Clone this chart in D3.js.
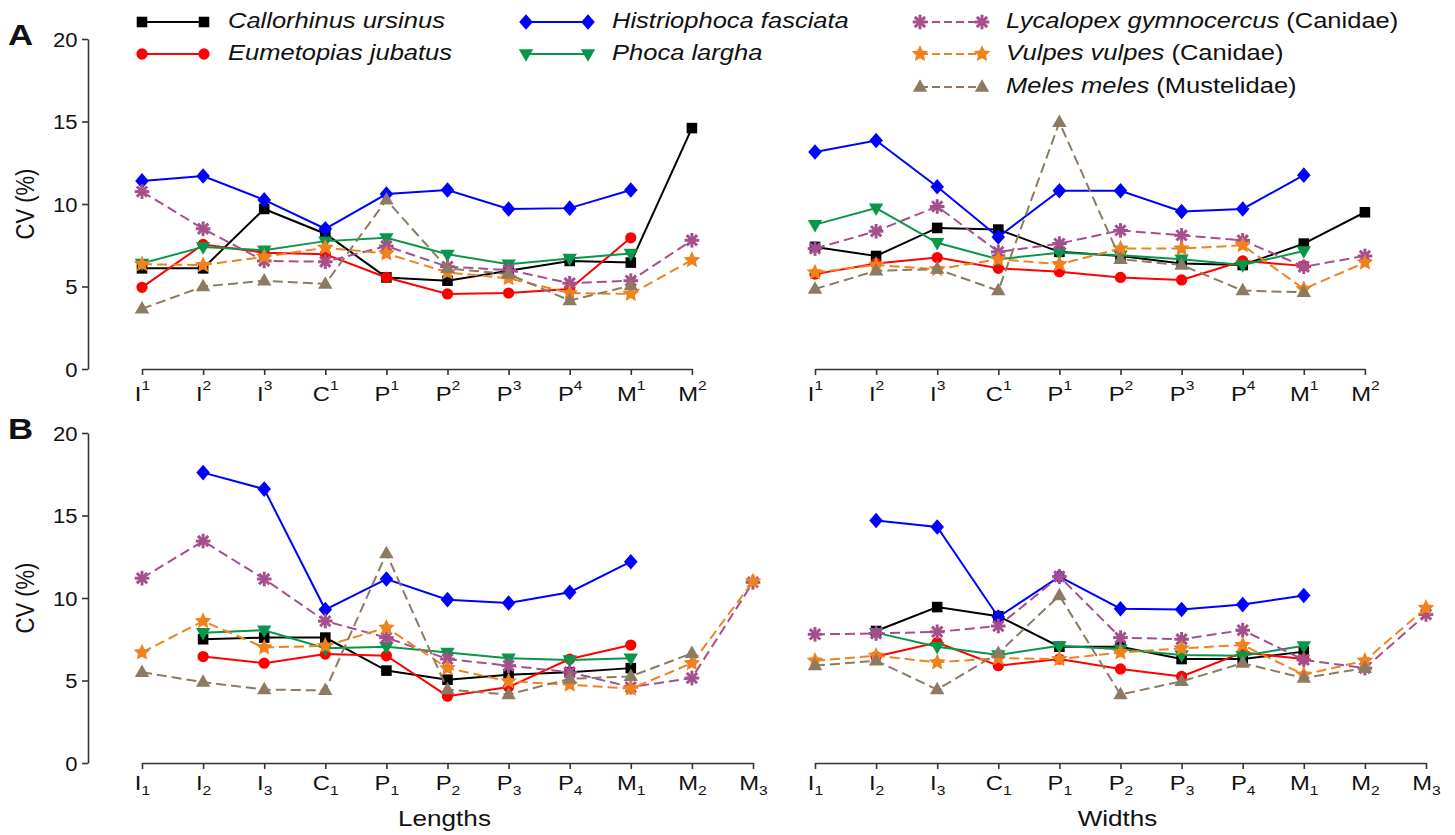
<!DOCTYPE html>
<html lang="en">
  <head>
    <meta charset="UTF-8" />
    <title>CV of tooth dimensions</title>
    <script src="https://d3js.org/d3.v7.min.js"></script>
    <style>
      body { margin: 0; background: #fff; }
      text { font-family: "Liberation Sans", Arial, sans-serif; fill: #111; }
      .axis path, .axis line { stroke: #333; stroke-width: 1.6; }
    </style>
  </head>
  <body>
    <svg id="chart" width="1455" height="835"></svg>

    <script>
      // categories (tooth positions)
      const upperTeeth = ["I1", "I2", "I3", "C1", "P1", "P2", "P3", "P4", "M1", "M2"];
      const lowerTeeth = ["I1", "I2", "I3", "C1", "P1", "P2", "P3", "P4", "M1", "M2", "M3"];
      const yTicks = [0, 5, 10, 15, 20];

      const species = [
        "Callorhinus ursinus",
        "Eumetopias jubatus",
        "Histriophoca fasciata",
        "Phoca largha",
        "Lycalopex gymnocercus",
        "Vulpes vulpes",
        "Meles meles",
      ];
      const families = ["", "", "", "", "Canidae", "Canidae", "Mustelidae"];

      // CV (%) per species, rows in the order of `species`
      const upperLengths = [
        [6.1, 6.1, 9.7, 8.2, 5.55, 5.35, 5.95, 6.55, 6.45, 14.6],
        [4.95, 7.55, 7.05, 6.95, 5.55, 4.55, 4.6, 4.85, 7.95, null],
        [11.4, 11.7, 10.25, 8.5, 10.6, 10.85, 9.7, 9.75, 10.85, null],
        [6.4, 7.4, 7.2, 7.75, 7.95, 6.95, 6.35, 6.7, 7.0, null],
        [10.75, 8.5, 6.55, 6.5, 7.45, 6.2, 6.0, 5.2, 5.35, 7.8],
        [6.35, 6.3, 6.8, 7.35, 7.0, 5.85, 5.5, 4.6, 4.55, 6.6],
        [3.65, 5.0, 5.35, 5.15, 10.25, 6.1, 5.75, 4.15, 5.05, null],
      ];
      const upperWidths = [
        [7.4, 6.85, 8.55, 8.45, 7.1, 6.85, 6.4, 6.3, 7.6, 9.5],
        [5.75, 6.4, 6.75, 6.1, 5.9, 5.55, 5.4, 6.55, 6.25, null],
        [13.15, 13.85, 11.05, 8.0, 10.8, 10.8, 9.55, 9.7, 11.75, null],
        [8.75, 9.75, 7.65, 6.65, 7.05, 6.9, 6.65, 6.3, 7.15, null],
        [7.3, 8.35, 9.85, 7.1, 7.6, 8.4, 8.1, 7.8, 6.2, 6.85],
        [5.85, 6.3, 6.05, 6.65, 6.35, 7.3, 7.3, 7.5, 4.85, 6.45],
        [4.85, 5.95, 6.05, 4.75, 14.95, 6.65, 6.3, 4.75, 4.65, null],
      ];
      const lowerLengths = [
        [null, 7.5, 7.6, 7.6, 5.6, 5.05, 5.35, 5.5, 5.75, null, null],
        [null, 6.45, 6.05, 6.6, 6.5, 4.05, 4.6, 6.3, 7.15, null, null],
        [null, 17.6, 16.6, 9.3, 11.15, 9.9, 9.7, 10.35, 12.2, null, null],
        [null, 7.9, 8.05, 6.95, 7.05, 6.7, 6.35, 6.25, 6.35, null, null],
        [11.2, 13.45, 11.15, 8.6, 7.6, 6.3, 5.9, 5.5, 4.6, 5.15, 10.95],
        [6.7, 8.6, 7.0, 7.1, 8.2, 5.75, 4.95, 4.75, 4.5, 6.05, 11.0],
        [5.5, 4.9, 4.45, 4.4, 12.7, 4.45, 4.15, 5.1, 5.25, 6.65, null],
      ];
      const lowerWidths = [
        [null, 8.0, 9.45, 8.9, 7.05, 7.05, 6.3, 6.3, 6.75, null, null],
        [null, 6.45, 7.3, 5.9, 6.3, 5.7, 5.25, 6.7, 6.3, null, null],
        [null, 14.7, 14.3, 8.85, 11.3, 9.35, 9.3, 9.6, 10.15, null, null],
        [null, 7.9, 7.05, 6.55, 7.1, 6.9, 6.55, 6.5, 7.1, null, null],
        [7.8, 7.85, 7.95, 8.3, 11.3, 7.6, 7.5, 8.05, 6.25, 5.75, 9.0],
        [6.2, 6.5, 6.1, 6.35, 6.3, 6.7, 6.95, 7.15, 5.35, 6.2, 9.4],
        [5.9, 6.2, 4.45, 6.65, 10.15, 4.15, 4.95, 6.05, 5.15, 5.75, null],
      ];

      // styles per species
      const colors = ["#000000", "#ff0000", "#0000ff", "#08974a", "#a54f8d", "#f0821e", "#8c7b62"];
      const dashed = [false, false, false, false, true, true, true];
      const shapes = ["square", "circle", "diamond", "triDown", "asterisk", "star", "triUp"];

      const svg = d3.select("#chart");
      const sx = 1.16; // the original figure's text is a bit wide

      // fat five-point star
      function starPath(R, r) {
        const pts = d3.range(10).map((k) => {
          const a = (k * Math.PI) / 5 - Math.PI / 2;
          const rad = k % 2 ? r : R;
          return [rad * Math.cos(a), rad * Math.sin(a)];
        });
        return "M" + pts.map((p) => p.join(",")).join("L") + "Z";
      }

      const symbolPath = {
        square: d3.symbol(d3.symbolSquare, 112)(),
        circle: d3.symbol(d3.symbolCircle, 100)(),
        diamond: "M0,-7.8L6.8,0L0,7.8L-6.8,0Z",
        triUp: "M0,-7.8L7.2,4.7L-7.2,4.7Z",
        triDown: "M0,7.8L7.2,-4.7L-7.2,-4.7Z",
        star: starPath(8.8, 4.2),
      };

      function drawMarker(g, shape, color, x, y) {
        if (shape === "asterisk") {
          const r = 7.3;
          const a = g.append("g").attr("transform", `translate(${x},${y})`);
          [0, 45, 90, 135].forEach((deg) => {
            const t = (deg * Math.PI) / 180;
            a.append("line")
              .attr("x1", -r * Math.cos(t)).attr("y1", -r * Math.sin(t))
              .attr("x2", r * Math.cos(t)).attr("y2", r * Math.sin(t))
              .attr("stroke", color).attr("stroke-width", 3);
          });
        } else {
          g.append("path")
            .attr("d", symbolPath[shape])
            .attr("transform", `translate(${x},${y})`)
            .attr("fill", color);
        }
      }

      const panels = [
        { data: upperLengths, cats: upperTeeth, x0: 142, top: 39, bottom: 369, sup: true, yAxis: true, letter: "A" },
        { data: upperWidths, cats: upperTeeth, x0: 815, top: 39, bottom: 369, sup: true, yAxis: false },
        { data: lowerLengths, cats: lowerTeeth, x0: 142, top: 433, bottom: 763, sup: false, yAxis: true, letter: "B", title: "Lengths" },
        { data: lowerWidths, cats: lowerTeeth, x0: 815, top: 433, bottom: 763, sup: false, yAxis: false, title: "Widths" },
      ];
      const step = 61.1;

      panels.forEach((p) => {
        const x = d3.scalePoint()
          .domain(p.cats)
          .range([p.x0, p.x0 + step * (p.cats.length - 1)]);
        const y = d3.scaleLinear().domain([0, 20]).range([p.bottom, p.top]);

        // x axis
        const xa = svg.append("g")
          .attr("class", "axis")
          .attr("transform", `translate(0,${p.bottom})`)
          .call(d3.axisBottom(x).tickSize(6).tickSizeOuter(0));
        xa.selectAll(".tick text").remove();
        xa.selectAll(".tick").each(function (d) {
          const t = d3.select(this).append("text")
            .attr("transform", `translate(0,${p.sup ? 31.5 : 27}) scale(${sx},1)`)
            .attr("text-anchor", "middle")
            .attr("fill", "#111")
            .style("font-size", "20.5px")
            .style("font-family", '"Liberation Sans", Arial, sans-serif');
          t.append("tspan").text(d[0]);
          t.append("tspan")
            .attr("dy", p.sup ? -10.5 : 4.5)
            .style("font-size", "13.5px")
            .text(d.slice(1));
        });

        // y axis
        if (p.yAxis) {
          const ya = svg.append("g")
            .attr("class", "axis")
            .attr("transform", "translate(88,0)")
            .call(d3.axisLeft(y).tickValues(yTicks).tickSize(6).tickSizeOuter(0));
          ya.selectAll(".tick text").remove();
          ya.selectAll(".tick").append("text")
            .attr("transform", `translate(-10.5,7) scale(1.13,1)`)
            .attr("text-anchor", "end")
            .attr("fill", "#111")
            .style("font-size", "19.5px")
            .style("font-family", '"Liberation Sans", Arial, sans-serif')
            .text((d) => d);
          svg.append("text")
            .attr("transform", `translate(34,${(p.top + p.bottom) / 2}) rotate(-90) scale(1,${sx})`)
            .attr("text-anchor", "middle")
            .style("font-size", "22px")
            .text("CV (%)");
          svg.append("text")
            .attr("transform", `translate(8,${p.top + 6}) scale(${sx},1)`)
            .style("font-size", "30px").style("font-weight", "bold")
            .text(p.letter);
        }

        if (p.title) {
          svg.append("text")
            .attr("transform", `translate(${(x.range()[0] + x.range()[1]) / 2 - 3},826) scale(${sx},1)`)
            .attr("text-anchor", "middle")
            .style("font-size", "22.5px")
            .text(p.title);
        }

        // series
        p.data.forEach((vals, i) => {
          const pts = p.cats.map((c, j) => ({ c, v: vals[j] }));
          const line = d3.line()
            .defined((d) => d.v != null)
            .x((d) => x(d.c))
            .y((d) => y(d.v));
          const g = svg.append("g");
          g.append("path")
            .datum(pts)
            .attr("d", line)
            .attr("fill", "none")
            .attr("stroke", colors[i])
            .attr("stroke-width", 2)
            .attr("stroke-dasharray", dashed[i] ? "10,5" : null);
          pts.filter((d) => d.v != null).forEach((d) => {
            drawMarker(g, shapes[i], colors[i], x(d.c), y(d.v));
          });
        });
      });

      // legend
      const legendCols = [142, 526, 920];
      const legendRows = [22, 54, 87];
      const legendSlots = [[0, 0], [0, 1], [1, 0], [1, 1], [2, 0], [2, 1], [2, 2]];
      species.forEach((name, i) => {
        const lx = legendCols[legendSlots[i][0]];
        const ly = legendRows[legendSlots[i][1]];
        const g = svg.append("g");
        g.append("line")
          .attr("x1", lx).attr("x2", lx + 62)
          .attr("y1", ly).attr("y2", ly)
          .attr("stroke", colors[i]).attr("stroke-width", 2)
          .attr("stroke-dasharray", dashed[i] ? "8,4" : null);
        drawMarker(g, shapes[i], colors[i], lx, ly);
        drawMarker(g, shapes[i], colors[i], lx + 62, ly);
        const t = g.append("text")
          .attr("transform", `translate(${lx + 86},${ly + 6}) scale(${sx},1)`)
          .style("font-size", "22px");
        t.append("tspan").style("font-style", "italic").text(name);
        if (families[i]) t.append("tspan").text(` (${families[i]})`);
      });
    </script>
  </body>
</html>
